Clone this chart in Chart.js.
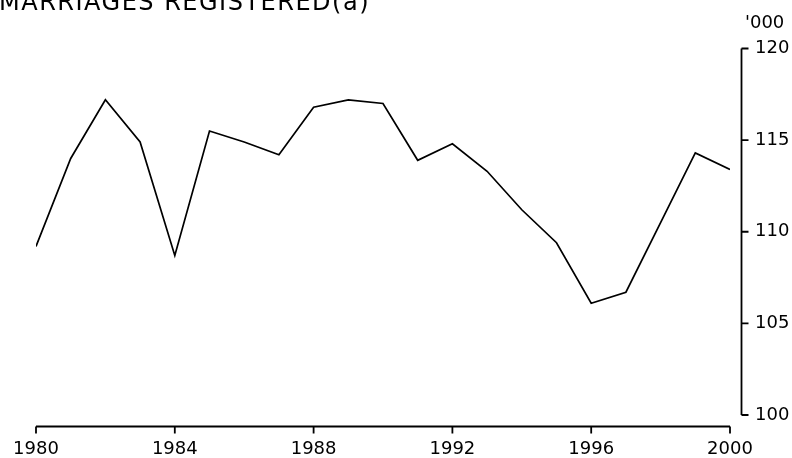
<!DOCTYPE html>
<html>
<head>
<meta charset="utf-8">
<script src="https://cdn.jsdelivr.net/npm/chart.js@4.4.0/dist/chart.umd.min.js"></script>
<style>
  html, body { margin: 0; padding: 0; background: #fff; }
  #wrap { width: 792px; height: 458px; position: relative; }
</style>
</head>
<body>
<div id="wrap"><canvas id="chart" width="792" height="458"></canvas></div>
<script>
const ctx = document.getElementById('chart').getContext('2d')

const chartTitle = 'MARRIAGES REGISTERED(a)'
const unitLabel = "'000"
const years = [1980, 1981, 1982, 1983, 1984, 1985, 1986, 1987, 1988, 1989, 1990,
    1991, 1992, 1993, 1994, 1995, 1996, 1997, 1998, 1999, 2000]
const marriages = [109.2, 114.0, 117.2, 114.9, 108.7, 115.5, 114.9, 114.2, 116.8, 117.2, 117.0,
    113.9, 114.8, 113.3, 111.2, 109.4, 106.1, 106.7, 110.5, 114.3, 113.4]
const yearTicks = [1980, 1984, 1988, 1992, 1996, 2000]
const valueTicks = [100, 105, 110, 115, 120]

const FONT = 'DejaVu Sans'

// axis lines sit a little away from the plot, like the original
const axisPlugin = {
    id: 'axisLines',
    afterDraw(chart) {
        const c = chart.ctx
        const area = chart.chartArea
        const xs = chart.scales.x
        const ys = chart.scales.y
        c.save()
        c.strokeStyle = '#000'
        c.lineWidth = 1.8
        c.lineCap = 'butt'

        // x axis
        const xAxisY = area.bottom + 11.5
        c.beginPath()
        c.moveTo(xs.getPixelForValue(yearTicks[0]), xAxisY)
        c.lineTo(xs.getPixelForValue(yearTicks[yearTicks.length - 1]), xAxisY)
        for (const t of yearTicks) {
            const px = xs.getPixelForValue(t)
            c.moveTo(px, xAxisY)
            c.lineTo(px, xAxisY + 7)
        }
        c.stroke()

        // y axis
        const yAxisX = area.right + 11.5
        c.beginPath()
        c.moveTo(yAxisX, ys.getPixelForValue(valueTicks[0]))
        c.lineTo(yAxisX, ys.getPixelForValue(valueTicks[valueTicks.length - 1]))
        for (const t of valueTicks) {
            const py = ys.getPixelForValue(t)
            c.moveTo(yAxisX, py)
            c.lineTo(yAxisX + 7, py)
        }
        c.stroke()

        // title and unit
        c.fillStyle = '#000'
        c.textBaseline = 'alphabetic'
        c.textAlign = 'left'
        c.font = '24px "' + FONT + '"'
        c.letterSpacing = '1.5px'
        c.fillText(chartTitle, -1, 10)
        c.letterSpacing = '0px'
        c.font = '18px "' + FONT + '"'
        c.fillText(unitLabel, 745, 28)
        c.restore()
    }
}

new Chart(ctx, {
    type: 'line',
    data: {
        datasets: [{
            data: years.map((y, i) => ({ x: y, y: marriages[i] })),
            borderColor: '#000',
            borderWidth: 1.7,
            pointRadius: 0,
            tension: 0,
            fill: false
        }]
    },
    options: {
        responsive: false,
        animation: false,
        events: [],
        layout: { padding: { top: 48.5, left: 36, right: 0, bottom: 0 } },
        plugins: {
            legend: { display: false },
            tooltip: { enabled: false }
        },
        scales: {
            x: {
                type: 'linear',
                min: 1980,
                max: 2000,
                afterBuildTicks: scale => { scale.ticks = yearTicks.map(v => ({ value: v })) },
                afterFit: scale => {
                    scale.height = 43
                    scale.paddingLeft = 0
                    scale.paddingRight = 0
                },
                grid: { display: false, drawTicks: false },
                border: { display: false },
                ticks: {
                    color: '#000',
                    font: { family: FONT, size: 18 },
                    padding: 24,
                    maxRotation: 0,
                    callback: v => String(v)
                }
            },
            y: {
                position: 'right',
                min: 100,
                max: 120,
                afterBuildTicks: scale => { scale.ticks = valueTicks.map(v => ({ value: v })) },
                afterFit: scale => {
                    scale.width = 62
                    scale.paddingTop = 0
                    scale.paddingBottom = 0
                },
                grid: { display: false, drawTicks: false },
                border: { display: false },
                ticks: {
                    color: '#000',
                    font: { family: FONT, size: 18 },
                    padding: 25,
                    callback: v => String(v)
                }
            }
        }
    },
    plugins: [axisPlugin]
})
</script>
</body>
</html>
